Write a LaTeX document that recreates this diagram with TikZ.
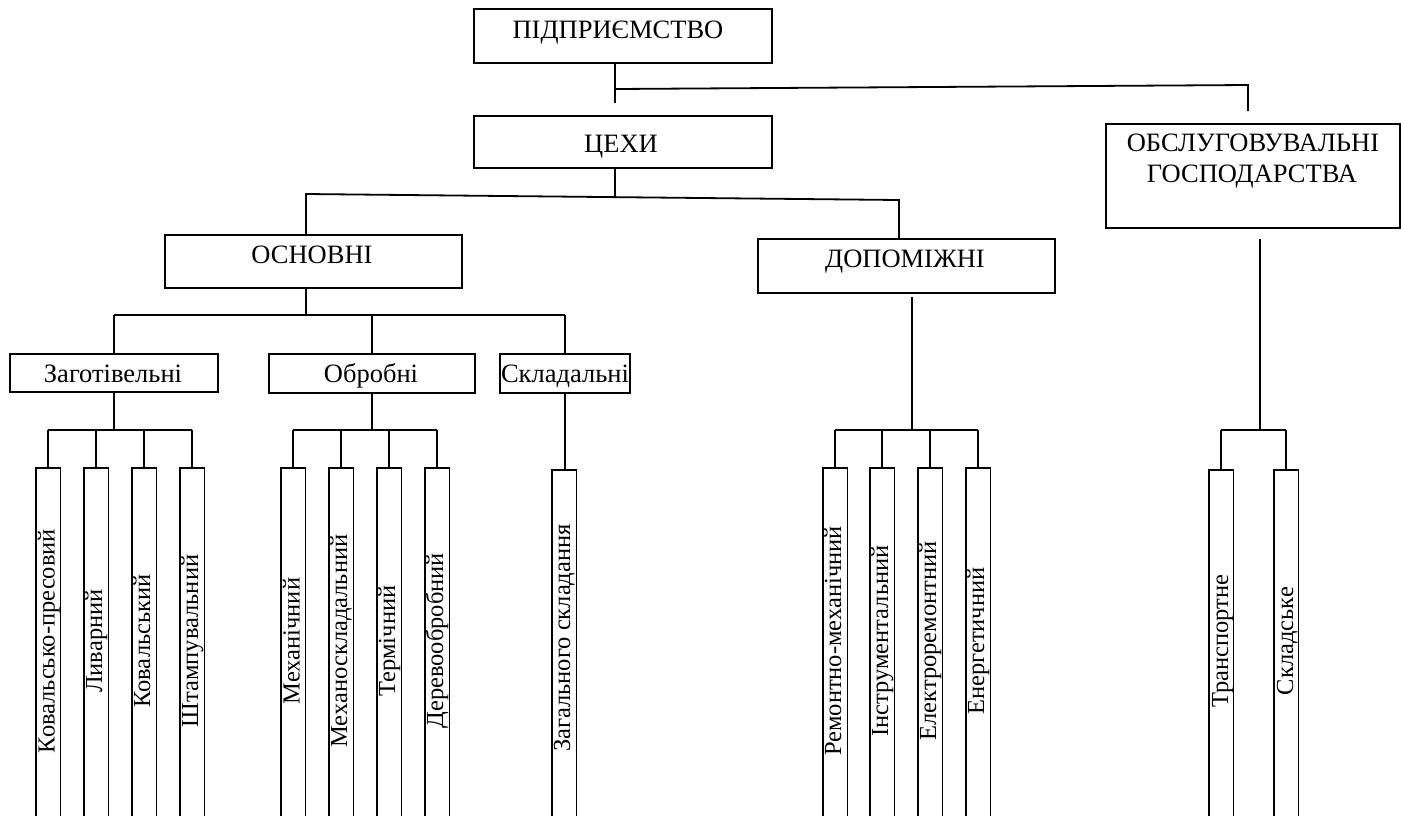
\documentclass[tikz,border=0pt]{standalone}
\usepackage{fontspec}
\setmainfont{Liberation Serif}
\begin{document}
\begin{tikzpicture}[x=1pt, y=-1pt, line width=1.8pt,
  box/.style={draw, line width=1.8pt, inner sep=0pt, anchor=north west},
  vbox/.style={box, minimum width=24.5, minimum height=380},
  lbl/.style={anchor=base, inner sep=0pt, font=\fontsize{26.5}{31}\selectfont},
  vlbl/.style={anchor=base, inner sep=0pt, rotate=90, font=\fontsize{24.5}{29}\selectfont}]
\useasboundingbox (0,0) rectangle (1401,815);

% ---- upper levels ----
\node[box, minimum width=298, minimum height=54] (ent) at (473,8) {};
\node[lbl] (entT) at (618,38) {ПІДПРИЄМСТВО};
\node[box, minimum width=298, minimum height=52] (tse) at (473,115) {};
\node[lbl] (tseT) at (621,152) {ЦЕХИ};
\node[box, minimum width=294, minimum height=104] (obs) at (1105,123) {};
\node[lbl] (obsT1) at (1253,151) {ОБСЛУГОВУВАЛЬНІ};
\node[lbl] (obsT2) at (1252,182) {ГОСПОДАРСТВА};

\node[box, minimum width=297, minimum height=53] (osn) at (164,234) {};
\node[lbl] (osnT) at (312,263) {ОСНОВНІ};
\node[box, minimum width=297, minimum height=54] (dop) at (757,238) {};
\node[lbl] (dopT) at (905,267) {ДОПОМІЖНІ};

\node[box, minimum width=208, minimum height=38] (zag) at (9,353) {};
\node[lbl] (zagT) at (113,382) {Заготівельні};
\node[box, minimum width=206, minimum height=39] (obr) at (268,353) {};
\node[lbl] (obrT) at (371,382) {Обробні};
\node[box, minimum width=130, minimum height=39] (skl) at (499,353) {};
\node[lbl] (sklT) at (565,382) {Складальні};

% ---- lowest level: tall upright boxes ----
\node[vbox] (z1) at (35,467) {};
\node[vbox] (z2) at (83,467) {};
\node[vbox] (z3) at (131,467) {};
\node[vbox] (z4) at (179,467) {};
\node[vlbl] (z1T) at (54.5,641) {Ковальсько-пресовий};
\node[vlbl] (z2T) at (102,641) {Ливарний};
\node[vlbl] (z3T) at (150,641) {Ковальський};
\node[vlbl] (z4T) at (198,641) {Штампувальний};

\node[vbox] (o1) at (280,467) {};
\node[vbox] (o2) at (328,467) {};
\node[vbox] (o3) at (376,467) {};
\node[vbox] (o4) at (424,467) {};
\node[vlbl] (o1T) at (299.5,641) {Механічний};
\node[vbox] (s1) at (551,469) {};
\node[vlbl] (o2T) at (347,641) {Механоскладальний};
\node[vlbl] (o3T) at (395,641) {Термічний};
\node[vlbl] (o4T) at (443,641) {Деревообробний};
\node[vlbl] (s1T) at (570,638) {Загального складання};

\node[vbox] (d1) at (822,467) {};
\node[vbox] (d2) at (869,467) {};
\node[vbox] (d3) at (917,467) {};
\node[vbox] (d4) at (965,467) {};
\node[vlbl] (d1T) at (841,641) {Ремонтно-механічний};
\node[vlbl] (d2T) at (888,641) {Інструментальний};
\node[vlbl] (d3T) at (936,641) {Електроремонтний};
\node[vlbl] (d4T) at (984,641) {Енергетичний};

\node[vbox] (g1) at (1208,469) {};
\node[vbox] (g2) at (1273,469) {};
\node[vlbl] (g1T) at (1228,641) {Транспортне};
\node[vlbl] (g2T) at (1293,641) {Складське};

% ---- connectors ----
\coordinate (t1) at (615,103);
\coordinate (t2) at (615,89);
\coordinate (t3) at (1248,85);
\coordinate (t4) at (1248,111);
\draw (t1 |- ent.south) -- (t1);
\draw (t2) -- (t3) -- (t4);

\coordinate (c1) at (615,196);
\coordinate (c2) at (306,194);
\coordinate (c3) at (899,200);
\draw (c1 |- tse.south) -- (c1);
\draw (c2 |- osn.north) -- (c2) -- (c3) -- (c3 |- dop.north);

\coordinate (ob) at (306,315);
\draw (ob |- osn.south) -- (ob);
\draw (zag.north |- ob) -- (skl.north |- ob);
\draw (zag.north) -- (zag.north |- ob);
\draw (obr.north) -- (obr.north |- ob);
\draw (skl.north) -- (skl.north |- ob);

\coordinate (zb) at (113,430);
\draw (zag.south) -- (zag.south |- zb);
\draw (z1.north |- zb) -- (z4.north |- zb);
\foreach \n in {z1,z2,z3,z4} \draw (\n.north) -- (\n.north |- zb);

\coordinate (rb) at (371,430);
\draw (obr.south) -- (obr.south |- rb);
\draw (o1.north |- rb) -- (o4.north |- rb);
\foreach \n in {o1,o2,o3,o4} \draw (\n.north) -- (\n.north |- rb);

\draw (s1.north -| skl.south) -- (skl.south);

\coordinate (dtop) at (912,297);
\coordinate (db) at (912,430);
\draw (dtop) -- (db);
\draw (d1.north |- db) -- (d4.north |- db);
\foreach \n in {d1,d2,d3,d4} \draw (\n.north) -- (\n.north |- db);

\coordinate (gtop) at (1260,239);
\coordinate (gb) at (1260,430);
\draw (gtop) -- (gb);
\draw (g1.north |- gb) -- (g2.north |- gb);
\foreach \n in {g1,g2} \draw (\n.north) -- (\n.north |- gb);
\end{tikzpicture}
\end{document}
